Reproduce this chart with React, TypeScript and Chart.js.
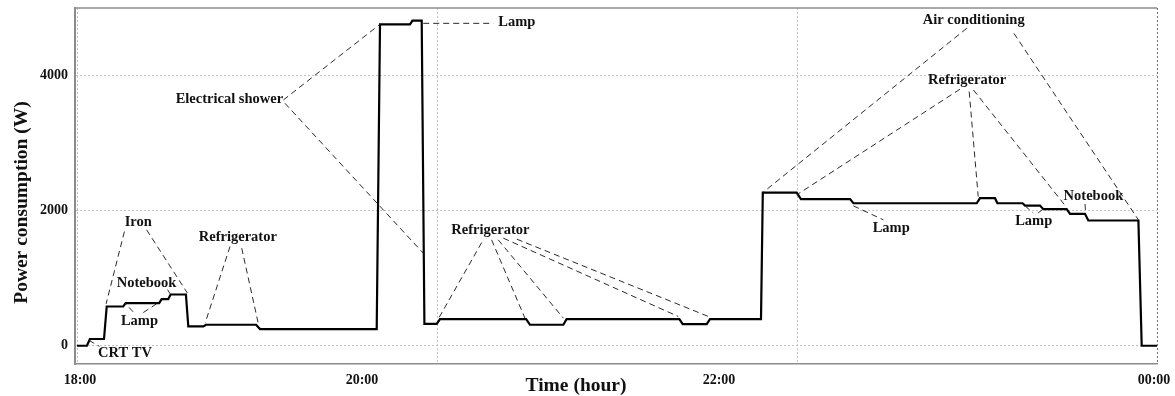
import React, { useEffect, useRef } from "react";
import { Chart, registerables } from "chart.js";

Chart.register(...registerables);

// Time in minutes after 18:00, power in W
const minutes = [
  0, 3.3, 4.3, 9, 9.9, 15.4, 16.2, 27.4, 28.2, 30.4, 31.2, 36.3, 37.1, 42.1, 43, 59.7, 61, 99.9,
  101, 111, 111.8, 114.9, 115.8, 119.9, 121, 149.7, 151, 162.1, 163.2, 200.8, 201.9, 209.9, 211,
  228, 228.6, 239.9, 241.3, 257.7, 258.8, 299.9, 301, 306, 306.8, 315.2, 316, 321, 322.1, 329.9,
  331, 336, 337.1, 353.8, 354.9, 360,
];
const watts = [
  0, 0, 100, 100, 581, 581, 632, 632, 690, 690, 759, 759, 286, 286, 311, 311, 247, 247,
  4759, 4759, 4813, 4813, 325, 325, 395, 395, 311, 311, 395, 395, 321, 321, 395,
  395, 2268, 2268, 2170, 2170, 2110, 2110, 2185, 2185, 2110, 2110, 2075, 2075, 2022, 2022,
  1953, 1953, 1854, 1854, 0, 0,
];

const yTicks = [0, 2000, 4000];
const gridMinutes = [0, 120, 240, 360];
const tickLabelMinutes = [1, 95, 214, 359];
const tickLabels = ["18:00", "20:00", "22:00", "00:00"];

const noteTexts = [
  "CRT TV", "Iron", "Notebook", "Lamp", "Refrigerator", "Electrical shower", "Lamp",
  "Refrigerator", "Air conditioning", "Refrigerator", "Lamp", "Lamp", "Notebook",
];
const noteMinutes = [16, 20.4, 23.2, 20.8, 53.6, 50.8, 146.6, 137.8, 298.9, 296.7, 271.4, 318.9, 338.8];
const noteWatts = [-118, 1830, 928, 360, 1608, 3654, 4783, 1716, 4822, 3935, 1741, 1839, 2209];

// leader lines: [fromMinute, fromW, toMinute, toW]
const leaders: [number, number, number, number][] = [
  [4, 80, 7.5, -10],
  [15.8, 1691, 9.7, 620],
  [23.2, 1716, 36.8, 780],
  [30.2, 830, 31, 770],
  [18.7, 503, 16, 632],
  [22.1, 492, 27.7, 655],
  [51, 1469, 42.7, 334],
  [54.9, 1445, 60.4, 334],
  [68.8, 3639, 101, 4759],
  [69.3, 3590, 115.4, 1371],
  [115.4, 4773, 138.8, 4773],
  [134.9, 1528, 120.4, 395],
  [138.2, 1568, 149.3, 410],
  [140.4, 1568, 162.1, 410],
  [142.1, 1593, 200.4, 434],
  [146.6, 1578, 211, 424],
  [296.6, 4700, 228.6, 2268],
  [312.3, 4625, 353.8, 1864],
  [294.3, 3797, 239.9, 2234],
  [297.4, 3762, 300.4, 2209],
  [298.8, 3787, 329.3, 2080],
  [258.8, 2071, 268.8, 1864],
  [316, 2071, 318.7, 1967],
  [322, 2022, 320, 1953],
  [336, 2100, 336.2, 1963],
];

const xTitle = "Time (hour)";
const yTitle = "Power consumption (W)";
const SERIF = "'Liberation Serif', 'Times New Roman', serif";

export default function App() {
  const ref = useRef<HTMLCanvasElement>(null);

  useEffect(() => {
    if (!ref.current) return;

    const overlay = {
      id: "overlay",
      afterDatasetsDraw(chart: any) {
        const { ctx, chartArea, scales } = chart;
        const xs = scales.x;
        const ys = scales.y;
        ctx.save();
        // top frame line
        ctx.strokeStyle = "#8c8c8c";
        ctx.lineWidth = 1.5;
        ctx.beginPath();
        ctx.moveTo(chartArea.left - 1, chartArea.top);
        ctx.lineTo(chartArea.right, chartArea.top);
        ctx.stroke();

        // leader lines
        ctx.setLineDash([6, 4]);
        ctx.strokeStyle = "#2a2a2a";
        ctx.lineWidth = 1;
        for (const [m1, w1, m2, w2] of leaders) {
          ctx.beginPath();
          ctx.moveTo(xs.getPixelForValue(m1), ys.getPixelForValue(w1));
          ctx.lineTo(xs.getPixelForValue(m2), ys.getPixelForValue(w2));
          ctx.stroke();
        }
        ctx.setLineDash([]);

        // notes
        ctx.fillStyle = "#111";
        ctx.font = `bold 14.5px ${SERIF}`;
        ctx.textAlign = "center";
        ctx.textBaseline = "middle";
        noteTexts.forEach((t, i) => {
          ctx.fillText(t, xs.getPixelForValue(noteMinutes[i]), ys.getPixelForValue(noteWatts[i]));
        });

        // axis titles
        ctx.font = `bold 19.5px ${SERIF}`;
        ctx.textBaseline = "alphabetic";
        ctx.fillText(xTitle, 576, 391);
        ctx.translate(26.5, 202.5);
        ctx.rotate(-Math.PI / 2);
        ctx.fillText(yTitle, 0, 0);
        ctx.restore();
      },
    };

    const tickFont = { family: SERIF, size: 14, weight: "bold" as const };
    const noPad = (s: any) => {
      s.paddingTop = 0;
      s.paddingBottom = 0;
      s.paddingLeft = 0;
      s.paddingRight = 0;
    };

    const chart = new Chart(ref.current, {
      type: "line",
      data: {
        datasets: [
          {
            data: minutes.map((m, i) => ({ x: m, y: watts[i] })),
            borderColor: "#000",
            borderWidth: 2.2,
            pointRadius: 0,
            tension: 0,
            fill: false,
          },
        ],
      },
      options: {
        animation: false,
        responsive: true,
        maintainAspectRatio: false,
        layout: { padding: { top: 8, right: 18, left: 0, bottom: 0 } },
        plugins: { legend: { display: false }, tooltip: { enabled: false } },
        scales: {
          x: {
            type: "linear",
            position: "bottom",
            min: -0.67,
            max: 360,
            afterBuildTicks: (s: any) => {
              s.ticks = gridMinutes.map((v) => ({ value: v }));
            },
            ticks: { display: false },
            grid: {
              drawTicks: false,
              lineWidth: 1,
              color: (c: any) => (c.tick && c.tick.value === 360 ? "#6f6f6f" : "#c4c4c4"),
            },
            border: { display: true, color: "#8c8c8c", width: 1.5, dash: [2, 2] },
            afterFit: (s: any) => {
              s.height = 0;
              noPad(s);
            },
          },
          x2: {
            type: "linear",
            position: "bottom",
            min: -0.67,
            max: 360,
            afterBuildTicks: (s: any) => {
              s.ticks = tickLabelMinutes.map((v) => ({ value: v }));
            },
            ticks: {
              font: tickFont,
              color: "#111",
              padding: 8,
              maxRotation: 0,
              autoSkip: false,
              callback: (v: any) => {
                const i = tickLabelMinutes.indexOf(Number(v));
                return i >= 0 ? tickLabels[i] : "";
              },
            },
            grid: { display: false, drawTicks: false },
            border: { display: false },
            afterFit: (s: any) => {
              s.height = 32;
              noPad(s);
            },
          },
          y: {
            type: "linear",
            min: -270,
            max: 5000,
            afterBuildTicks: (s: any) => {
              s.ticks = yTicks.map((v) => ({ value: v }));
            },
            ticks: { font: tickFont, color: "#111", padding: 7, callback: (v: any) => String(v) },
            grid: { drawTicks: false, color: "#c4c4c4", lineWidth: 1 },
            border: { display: true, color: "#8c8c8c", width: 2, dash: [2, 2] },
            afterFit: (s: any) => {
              s.width = 75;
              noPad(s);
            },
          },
        },
      },
      plugins: [overlay],
    });

    return () => chart.destroy();
  }, []);

  return (
    <div style={{ position: "absolute", left: 0, top: 0, width: 1175, height: 396, background: "#fff" }}>
      <canvas ref={ref} />
    </div>
  );
}
